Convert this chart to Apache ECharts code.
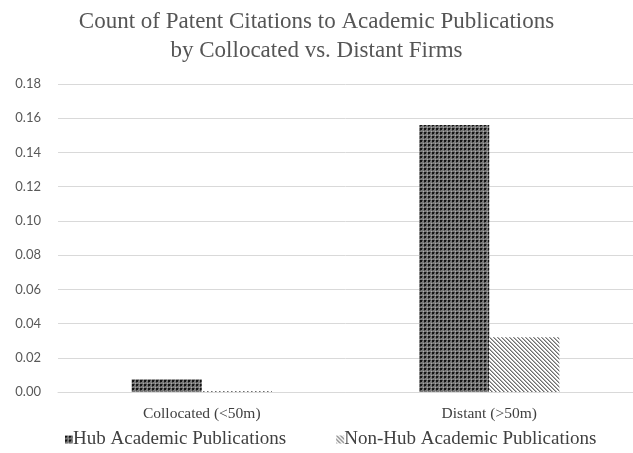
<!DOCTYPE html>
<html><head><meta charset="utf-8">
<script src="https://cdn.jsdelivr.net/npm/echarts@6/dist/echarts.min.js"></script>
<style>html,body{margin:0;padding:0;background:#fff}#c{width:633px;height:453px}</style>
</head><body><div id="c"></div>
<script>
const categories = ['Collocated (<50m)', 'Distant (>50m)'];
const hubValues = [0.0075, 0.156];
const nonHubValues = [0.0006, 0.032];
const yTicks = ['0.00','0.02','0.04','0.06','0.08','0.10','0.12','0.14','0.16','0.18'];

function hubPattern(){
  const c = document.createElement('canvas'); c.width = 4; c.height = 4;
  const g = c.getContext('2d');
  g.fillStyle = '#7a7a7a'; g.fillRect(0,0,4,4);
  g.fillStyle = '#141414'; g.fillRect(0,0,2,2);
  g.fillStyle = '#4a4a4a'; g.fillRect(2,0,1,1); g.fillRect(0,2,1,1);
  g.fillStyle = '#a8a8a8'; g.fillRect(3,3,1,1);
  return c;
}
function stripePattern(){
  const c = document.createElement('canvas'); c.width = 4; c.height = 4;
  const g = c.getContext('2d');
  g.fillStyle = '#ffffff'; g.fillRect(0,0,4,4);
  g.fillStyle = '#6e6e6e';
  for (let i = 0; i < 4; i++) { g.fillRect(i, i, 1, 1); }
  g.fillStyle = '#b0b0b0';
  for (let i = 0; i < 4; i++) { g.fillRect((i+1)%4, i, 1, 1); }
  return c;
}
const hubColor = { image: hubPattern(), repeat: 'repeat' };
const nonHubColor = { image: stripePattern(), repeat: 'repeat' };

const chart = echarts.init(document.getElementById('c'));
chart.setOption({
  animation: false,
  backgroundColor: '#fff',
  title: {
    text: 'Count of Patent Citations to Academic Publications\nby Collocated vs. Distant Firms',
    left: 'center', top: 2,
    textStyle: { fontFamily: 'Liberation Serif', fontSize: 23, fontWeight: 'normal', color: '#555555', lineHeight: 29 }
  },
  legend: {
    bottom: -1, left: 60, itemGap: 50, itemWidth: 8, itemHeight: 8, icon: 'rect',
    textStyle: { fontFamily: 'Liberation Serif', fontSize: 19, color: '#404040', padding: [0,0,0,-5] },
    data: ['Hub Academic Publications', 'Non-Hub Academic Publications']
  },
  grid: { left: 58, top: 84, width: 580, height: 308, containLabel: false },
  xAxis: {
    type: 'category', data: categories,
    axisLine: { lineStyle: { color: '#d9d9d9', width: 1 } },
    axisTick: { show: false },
    axisLabel: { fontFamily: 'Liberation Serif', fontSize: 15.5, color: '#404040', margin: 14 }
  },
  yAxis: {
    type: 'value', min: 0, max: 0.18, interval: 0.02,
    axisLine: { show: false }, axisTick: { show: false },
    splitLine: { lineStyle: { color: '#d9d9d9', width: 1 } },
    axisLabel: { fontFamily: 'Lato', fontSize: 13, color: '#595959', margin: 17,
      formatter: v => yTicks[Math.round(v / 0.02)] }
  },
  series: [
    { name: 'Hub Academic Publications', type: 'bar', data: hubValues, barWidth: '24.4%', barGap: '0%',
      itemStyle: { color: hubColor } },
    { name: 'Non-Hub Academic Publications', type: 'bar', data: nonHubValues, barWidth: '24.4%',
      itemStyle: { color: nonHubColor } }
  ]
});
</script></body></html>
